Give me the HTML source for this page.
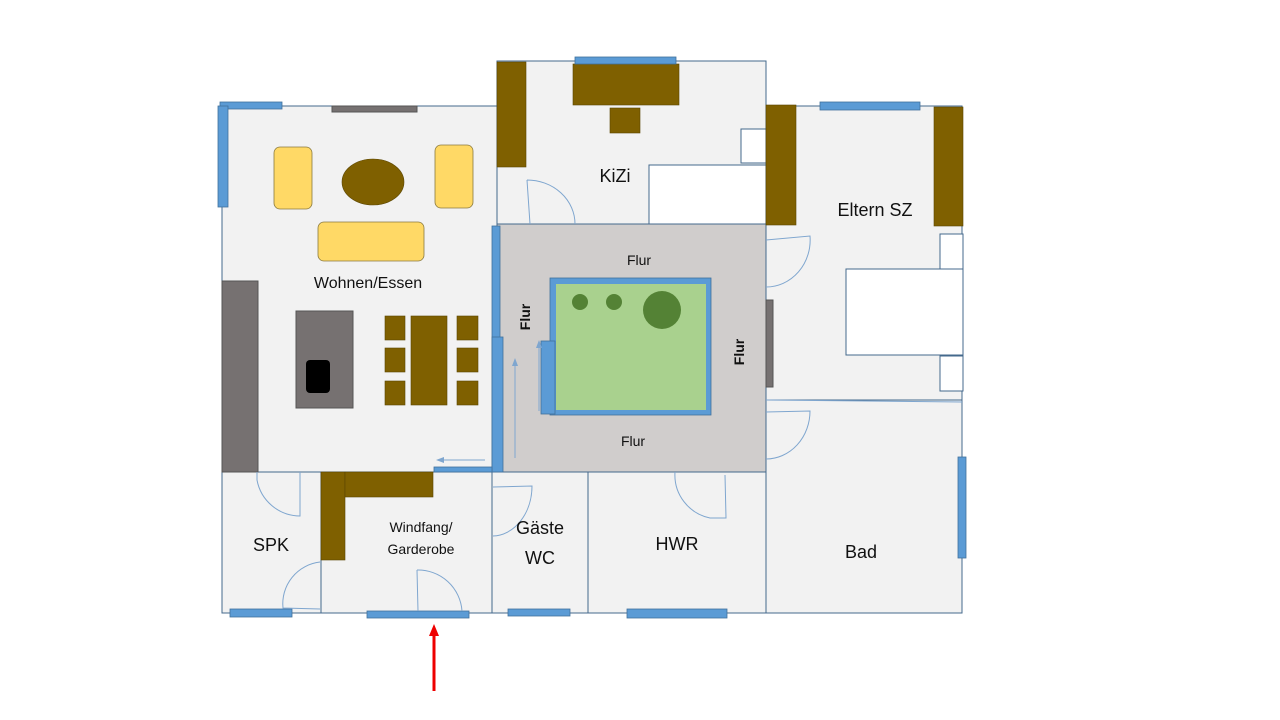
<!DOCTYPE html>
<html><head><meta charset="utf-8"><style>body{margin:0;background:#fff}svg{display:block}text{font-family:"Liberation Sans",sans-serif;fill:#111}</style></head><body>
<svg width="1280" height="720" viewBox="0 0 1280 720">
<g stroke="#44698c" stroke-width="1" fill="#f2f2f2">
<rect x="222" y="106" width="275" height="366"/>
<rect x="497" y="61" width="269" height="163"/>
<rect x="766" y="106" width="196" height="294"/>
<rect x="497" y="224" width="269" height="248" fill="#d0cdcc"/>
<rect x="222" y="472" width="99" height="141"/>
<rect x="321" y="472" width="171" height="141"/>
<rect x="492" y="472" width="96" height="141"/>
<rect x="588" y="472" width="178" height="141"/>
<rect x="766" y="400" width="196" height="213"/>
</g>
<g fill="#fff" stroke="#44698c">
<rect x="741" y="129" width="25" height="34"/><rect x="649" y="165" width="117" height="59"/>
<rect x="940" y="234" width="23" height="35"/><rect x="846" y="269" width="117" height="86"/><rect x="940" y="356" width="23" height="35"/>
</g>
<g fill="#767171" stroke="#555">
<rect x="222" y="281" width="36" height="191"/><rect x="332" y="106" width="85" height="6"/><rect x="766" y="300" width="7" height="87"/>
<rect x="296" y="311" width="57" height="97"/>
</g>
<rect x="306" y="360" width="24" height="33" rx="4" fill="#000"/>
<g fill="#7f6000" stroke="#5a4500" stroke-width="0.6">
<rect x="497" y="62" width="29" height="105"/><rect x="573" y="64" width="106" height="41"/><rect x="610" y="108" width="30" height="25"/>
<rect x="766" y="105" width="30" height="120"/><rect x="934" y="107" width="29" height="119"/>
<ellipse cx="373" cy="182" rx="31" ry="23"/>
<rect x="411" y="316" width="36" height="89"/>
<rect x="385" y="316" width="20" height="24"/><rect x="385" y="348" width="20" height="24"/><rect x="385" y="381" width="20" height="24"/>
<rect x="457" y="316" width="21" height="24"/><rect x="457" y="348" width="21" height="24"/><rect x="457" y="381" width="21" height="24"/>
<rect x="321" y="472" width="24" height="88"/><rect x="345" y="472" width="88" height="25"/>
</g>
<g fill="#ffd966" stroke="#8a7a40" stroke-width="0.8">
<rect x="274" y="147" width="38" height="62" rx="6"/><rect x="435" y="145" width="38" height="63" rx="6"/><rect x="318" y="222" width="106" height="39" rx="6"/>
</g>
<g fill="#5b9bd5" stroke="#41719c" stroke-width="0.8">
<rect x="220" y="102" width="62" height="7"/><rect x="218" y="106" width="10" height="101"/>
<rect x="575" y="57" width="101" height="7"/><rect x="820" y="102" width="100" height="8"/>
<rect x="492" y="226" width="8" height="246"/><rect x="492" y="337" width="11" height="135"/>
<rect x="434" y="467" width="58" height="5"/>
<rect x="958" y="457" width="8" height="101"/>
<rect x="230" y="609" width="62" height="8"/><rect x="367" y="611" width="102" height="7"/><rect x="508" y="609" width="62" height="7"/><rect x="627" y="609" width="100" height="9"/>
<rect x="550" y="278" width="161" height="137"/><rect x="541" y="341" width="14" height="73"/>
</g>
<rect x="556" y="284" width="150" height="126" fill="#a9d18e"/>
<g fill="#548235"><circle cx="580" cy="302" r="8"/><circle cx="614" cy="302" r="8"/><circle cx="662" cy="310" r="19"/></g>
<g fill="none" stroke="#7fa6cf" stroke-width="1">
<path d="M527 180 L530 224 M527 180 A48 44 0 0 1 575 224"/>
<path d="M766 240 L810 236 A44 47 0 0 1 766 287"/>
<path d="M766 412 L810 411 A44 48 0 0 1 766 459"/>
<path d="M766 400 L962 402"/>
<path d="M257 472 L257 480 A44 44 0 0 0 300 516 L300 472"/>
<path d="M320 609 L283 608 A42 42 0 0 1 320 562"/>
<path d="M417 570 L418 611 M417 570 A44 44 0 0 1 462 611"/>
<path d="M493 487 L532 486 A40 50 0 0 1 493 536"/>
<path d="M725 475 L726 518 L710 518 A44 44 0 0 1 675 472"/>
<path d="M485 460 L440 460"/><path d="M515 458 L515 362"/><path d="M539 411 L539 344"/>
</g>
<g fill="#7fa6cf"><path d="M436 460 L444 457 L444 463Z"/><path d="M515 358 L512 366 L518 366Z"/><path d="M539 340 L536 348 L542 348Z"/></g>
<line x1="434" y1="691" x2="434" y2="634" stroke="#e00" stroke-width="3"/>
<path d="M434 624 L429 636 L439 636Z" fill="#e00"/>
<g text-anchor="middle">
<text x="615" y="182" font-size="18">KiZi</text>
<text x="875" y="216" font-size="18">Eltern SZ</text>
<text x="368" y="288" font-size="16">Wohnen/Essen</text>
<text x="639" y="265" font-size="14">Flur</text>
<text x="633" y="446" font-size="14">Flur</text>
<text x="0" y="0" font-size="14" font-weight="bold" transform="translate(530 317) rotate(-90)">Flur</text>
<text x="0" y="0" font-size="14" font-weight="bold" transform="translate(744 352) rotate(-90)">Flur</text>
<text x="271" y="551" font-size="18">SPK</text>
<text x="421" y="532" font-size="14">Windfang/</text>
<text x="421" y="554" font-size="14">Garderobe</text>
<text x="540" y="534" font-size="18">Gäste</text>
<text x="540" y="564" font-size="18">WC</text>
<text x="677" y="550" font-size="18">HWR</text>
<text x="861" y="558" font-size="18">Bad</text>
</g>
</svg>
</body></html>
